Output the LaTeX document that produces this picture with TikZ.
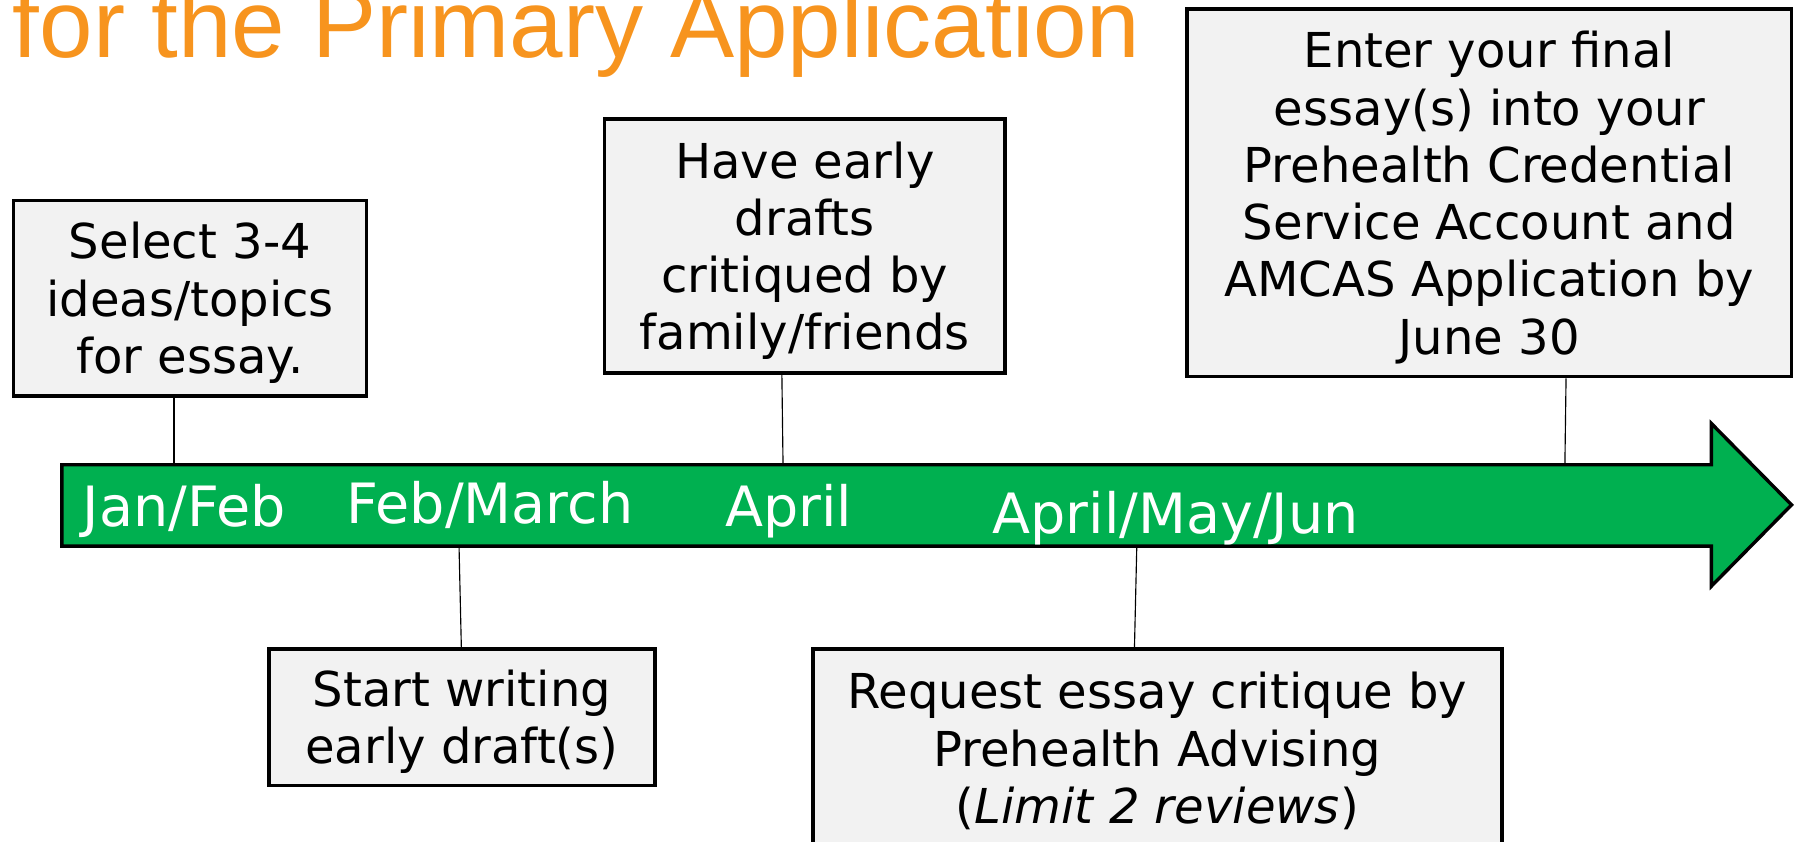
\documentclass[tikz,border=0pt]{standalone}
\usepackage{fontspec}
\setmainfont{DejaVu Sans}
\newfontfamily\titlefont{Liberation Sans}
\definecolor{arrowgreen}{RGB}{0,176,80}
\definecolor{boxgray}{RGB}{242,242,242}
\definecolor{titleorange}{RGB}{247,148,30}
\newcommand{\topstrut}{\rule{0pt}{0.95em}}
\tikzset{
  stepbox/.style={draw=black, line width=2.25pt, fill=boxgray, align=center, inner sep=0pt,
    font=\fontsize{31.5pt}{37.5pt}\selectfont},
  monthlabel/.style={text=white, inner sep=0pt, anchor=base, font=\fontsize{36.4pt}{42pt}\selectfont},
  tickline/.style={line width=0.75pt}
}
\begin{document}
\begin{tikzpicture}[x=0.75pt,y=0.75pt,yscale=-1,xscale=1]
\useasboundingbox (0,0) rectangle (1568,735);

% Text Node
\node [anchor=base west, inner sep=0pt, text=titleorange, font=\titlefont\fontsize{63pt}{70pt}\selectfont] (title) at (11,50) {for the Primary Application};

%Shape: Right Arrow
\draw [fill=arrowgreen, line width=2.25pt] (54,406) -- (1495,406) -- (1495,370) -- (1565,441) -- (1495,512) -- (1495,477) -- (54,477) -- cycle ;

% Text Node
\node [monthlabel] (janfeb) at (161,460) {Jan/Feb};
\node [monthlabel] (febmar) at (428,457) {Feb/March};
\node [monthlabel] (april) at (689,460) {April};
\node [monthlabel] (aprjun) at (1027,466) {April/May/Jun};

% Boxes
\node [stepbox, minimum width=231pt, minimum height=128.25pt] (select) at (166,260.5) {\topstrut Select 3-4\\ideas/topics\\for essay.};
\node [stepbox, minimum width=252.75pt, minimum height=89.25pt] (start) at (403.5,626.5) {\topstrut Start writing\\early draft(s)};
\node [stepbox, minimum width=262.5pt, minimum height=166.5pt] (critique) at (703,215) {\topstrut Have early\\drafts\\critiqued by\\family/friends};
\node [stepbox, minimum width=451.5pt, minimum height=127.5pt] (request) at (1011,652) {\topstrut Request essay critique by\\Prehealth Advising\\(\textit{Limit 2 reviews})};
\node [stepbox, minimum width=396pt, minimum height=240.75pt] (enter) at (1301,168.5) {\topstrut Enter your final\\essay(s) into your\\Prehealth Credential\\Service Account and\\AMCAS Application by\\June 30};

% Ticks on the arrow
\coordinate (tselect) at (152,405);
\coordinate (tstart) at (401,478);
\coordinate (tcritique) at (684,405);
\coordinate (trequest) at (993,478);
\coordinate (tenter) at (1367,405);

\draw [tickline] (select.south -| tselect) -- (tselect) ;
\draw [tickline] (tstart) -- (start.north -| 403,0) ;
\draw [tickline] (critique.south -| 683,0) -- (tcritique) ;
\draw [tickline] (trequest) -- (request.north -| 991,0) ;
\draw [tickline] (enter.south -| 1368,0) -- (tenter) ;

\end{tikzpicture}
\end{document}
